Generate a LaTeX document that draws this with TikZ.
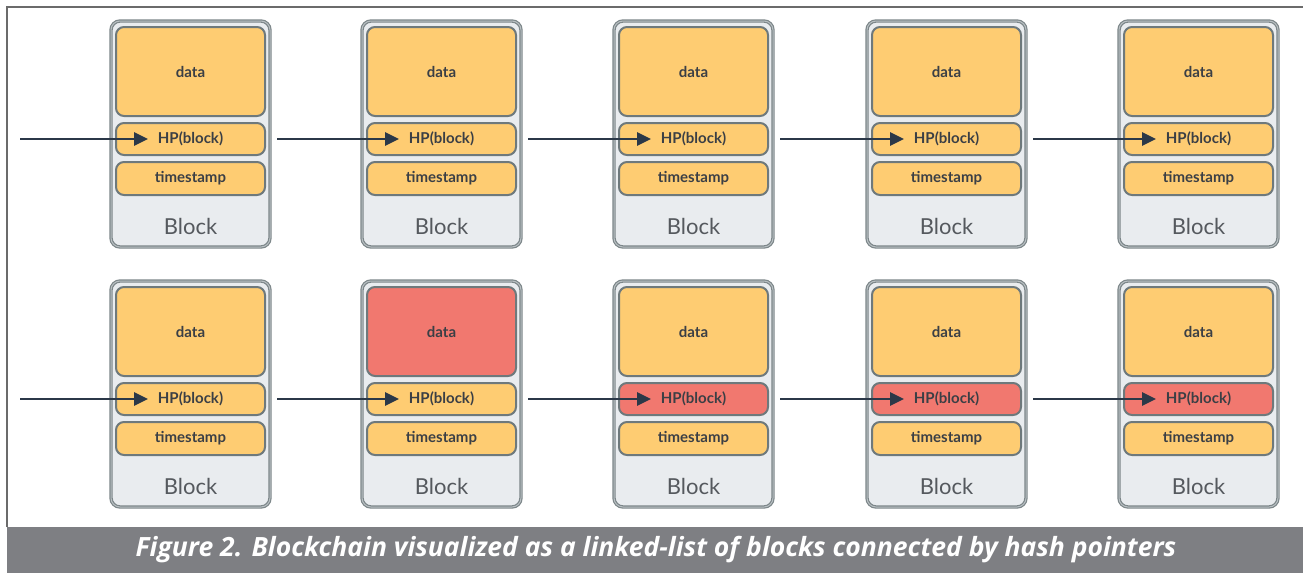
\documentclass[tikz,border=0pt]{standalone}
\usepackage{fontspec}
\setmainfont{Lato}
\newfontfamily\capfont{Open Sans}
\usetikzlibrary{calc,arrows.meta}
\definecolor{orng}{HTML}{FECC72}
\definecolor{redf}{HTML}{F1786F}
\definecolor{blkfill}{HTML}{E9ECEF}
\definecolor{blkline}{HTML}{7C8689}
\definecolor{blkinner}{HTML}{B8BFC2}
\definecolor{inline}{HTML}{6E797C}
\definecolor{txt}{HTML}{3B3F45}
\definecolor{blocktxt}{HTML}{55595E}
\definecolor{arrc}{HTML}{2B3848}
\definecolor{capbg}{HTML}{7E7F83}
\definecolor{framec}{HTML}{6B6B6B}
\begin{document}
\begin{tikzpicture}[x=1pt,y=-1pt,
  outer/.style={draw=blkline, line width=1.2pt, double=blkinner, double distance=1pt,
    fill=blkfill, rounded corners=9pt, minimum width=159pt, minimum height=226pt,
    anchor=north west, inner sep=0pt, outer sep=0pt},
  field/.style={draw=inline, line width=2pt, fill=orng, rounded corners=8pt,
    minimum width=149pt, anchor=north west, inner sep=0pt, outer sep=0pt,
    font=\fontsize{15}{17}\selectfont\bfseries, text=txt},
  lbl/.style={font=\fontsize{22}{24}\selectfont, text=blocktxt, inner sep=0pt},
  arr/.style={draw=arrc, line width=2.8pt, -{Triangle[length=14pt,width=13pt]}}
]
\useasboundingbox (0,0) rectangle (1303,573);
% frame
\draw[framec, line width=1.5pt] (7,527) -- (7,7) -- (1303,7);
% caption bar
\node[fill=capbg, minimum width=1296pt, minimum height=46pt, anchor=north west,
  inner sep=0pt, outer sep=0pt] (bar) at (7,527) {};
\node[font={\capfont\fontsize{26.5}{30}\selectfont\bfseries\itshape}, text=white]
  (cap) at (656,550) {Figure 2. Blockchain visualized as a linked-list of blocks connected by hash pointers};
% blocks
\foreach \r/\y in {1/21,2/281}{
  \foreach \c/\x in {1/111,2/362,3/614,4/867,5/1119}{
    \edef\dcol{\ifnum\r\c=22 redf\else orng\fi}
    \edef\hcol{\ifnum\r=2 \ifnum\c>2 redf\else orng\fi\else orng\fi}
    \node[outer] (b\r\c) at (\x,\y) {};
    \node[field, minimum height=89pt, fill=\dcol] (d\r\c) at (\x+5,\y+6) {data};
    \node[field, minimum height=32pt, fill=\hcol] (h\r\c) at (\x+5,\y+102) {HP(block)};
    \node[field, minimum height=33pt] (t\r\c) at (\x+5,\y+141) {timestamp};
    \node[lbl] (l\r\c) at (\x+79.5,\y+205) {Block};
  }
  \coordinate (s\r) at (20,\y+118);
  \draw[arr] (s\r) -- ($(h\r1.west)+(32,0)$);
  \foreach \c [evaluate=\c as \p using int(\c-1)] in {2,...,5}{
    \draw[arr] ($(b\r\p.east |- h\r\c.west)+(7,0)$) -- ($(h\r\c.west)+(32,0)$);
  }
}
\end{tikzpicture}
\end{document}
